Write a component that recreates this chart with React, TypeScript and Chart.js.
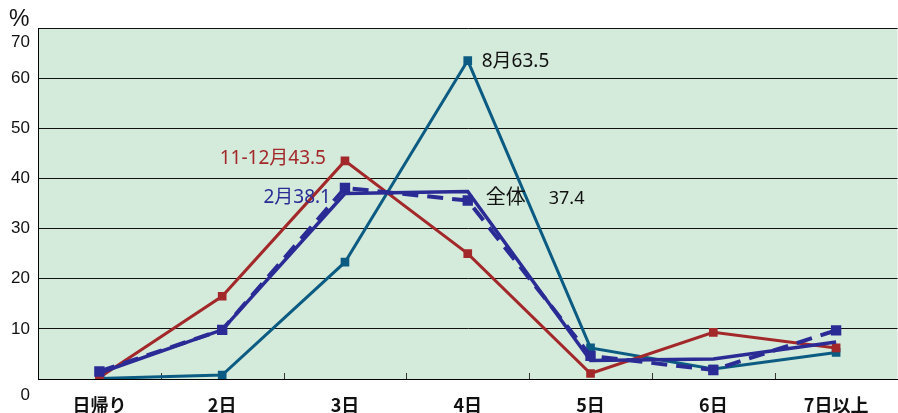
import React, { useEffect, useRef } from "react";
import { Chart, registerables } from "chart.js";

Chart.register(...registerables);

const categories = ["日帰り", "2日", "3日", "4日", "5日", "6日", "7日以上"];
const zentai = [1.2, 9.8, 37.0, 37.4, 3.7, 4.0, 7.4];
const feb = [1.5, 9.8, 38.1, 35.6, 4.6, 1.8, 9.7];
const novdec = [0.3, 16.5, 43.5, 25.0, 1.1, 9.3, 6.2];
const aug = [0.1, 0.8, 23.3, 63.5, 6.2, 2.0, 5.3];
const yTicks = [0, 10, 20, 30, 40, 50, 60, 70];

const RED = "#a3282a";
const TEAL = "#0b5b82";
const NAVY = "#2b2b96";
const BG = "#d4eada";
const FONT = '"Liberation Sans", "Noto Sans CJK JP", Arial, sans-serif';
const AFONT = '"Noto Sans", "Noto Sans CJK JP", sans-serif';

const decorPlugin = {
  id: "decor",
  beforeDraw(chart: any) {
    const { ctx, chartArea } = chart;
    ctx.save();
    ctx.fillStyle = BG;
    ctx.fillRect(chartArea.left, chartArea.top, chartArea.right - chartArea.left, chartArea.bottom - chartArea.top);
    ctx.restore();
  },
  beforeDatasetsDraw(chart: any) {
    const { ctx, chartArea } = chart;
    const xs = chart.scales.x;
    ctx.save();
    ctx.strokeStyle = "#333";
    ctx.lineWidth = 1;
    for (let i = 1; i < categories.length; i++) {
      const x = Math.round((xs.getPixelForValue(i - 1) + xs.getPixelForValue(i)) / 2) + 0.5;
      ctx.beginPath();
      ctx.moveTo(x, chartArea.bottom);
      ctx.lineTo(x, chartArea.bottom - 6);
      ctx.stroke();
    }
    ctx.restore();
  },
  afterDraw(chart: any) {
    const { ctx } = chart;
    const ys = chart.scales.y;
    const xs = chart.scales.x;
    ctx.save();
    ctx.fillStyle = "#111";
    ctx.font = `17px ${FONT}`;
    ctx.textAlign = "right";
    ctx.textBaseline = "middle";
    for (const v of yTicks) {
      const shift = v === 0 ? 16 : v === 70 ? 14 : 0;
      ctx.fillText(String(v), 30, ys.getPixelForValue(v) + shift);
    }
    ctx.textAlign = "left";
    ctx.font = `23px ${FONT}`;
    ctx.fillText("%", 9, 20);

    // annotations
    const px = (i: number) => xs.getPixelForValue(i);
    const py = (v: number) => ys.getPixelForValue(v);
    ctx.font = `19px ${AFONT}`;
    ctx.fillStyle = RED;
    ctx.textAlign = "right";
    ctx.fillText(`11-12月${novdec[2]}`, px(2) - 19, py(novdec[2]) - 2);
    ctx.fillStyle = NAVY;
    ctx.fillText(`2月${feb[2]}`, px(2) - 14, py(feb[2]) + 10);
    ctx.fillStyle = "#111";
    ctx.textAlign = "left";
    ctx.fillText(`8月${aug[3]}`, px(3) + 14, py(aug[3]) + 1);
    ctx.font = `20px ${AFONT}`;
    ctx.fillText("全体", px(3) + 18, py(zentai[3]) + 7);
    ctx.font = `18px ${AFONT}`;
    ctx.fillText(String(zentai[3]), px(3) + 81, py(zentai[3]) + 7);
    ctx.restore();
  },
};

export default function App() {
  const ref = useRef<HTMLCanvasElement>(null);
  useEffect(() => {
    if (!ref.current) return;
    const chart = new Chart(ref.current, {
      type: "line",
      data: {
        labels: categories,
        datasets: [
          {
            label: "全体",
            data: zentai,
            borderColor: NAVY,
            backgroundColor: NAVY,
            borderWidth: 3.5,
            pointRadius: 0,
            tension: 0,
          },
          {
            label: "2月",
            data: feb,
            borderColor: NAVY,
            backgroundColor: NAVY,
            borderWidth: 4,
            borderDash: [16, 9],
            pointStyle: "rect",
            pointRadius: 4.5,
            tension: 0,
          },
          {
            label: "11-12月",
            data: novdec,
            borderColor: RED,
            backgroundColor: RED,
            borderWidth: 3,
            pointStyle: "rect",
            pointRadius: 4,
            tension: 0,
          },
          {
            label: "8月",
            data: aug,
            borderColor: TEAL,
            backgroundColor: TEAL,
            borderWidth: 3,
            pointStyle: "rect",
            pointRadius: 4,
            tension: 0,
          },
        ],
      },
      options: {
        animation: false,
        responsive: true,
        maintainAspectRatio: false,
        layout: { padding: { top: 28, left: 0, right: 0, bottom: 0 } },
        plugins: { legend: { display: false }, tooltip: { enabled: false } },
        scales: {
          x: {
            offset: true,
            grid: { display: false, drawTicks: false },
            border: { display: true, color: "#000", width: 1 },
            ticks: {
              color: "#111",
              padding: 15,
              maxRotation: 0,
              autoSkip: false,
              font: { family: '"Noto Sans CJK JP", "Liberation Sans", sans-serif', size: 18, weight: "bold" },
            },
            afterFit: (s: any) => {
              s.height = 34;
            },
          },
          y: {
            min: 0,
            max: 70,
            ticks: { display: false, stepSize: 10 },
            grid: { color: "#111", lineWidth: 1, drawTicks: false },
            border: { display: true, color: "#000", width: 1 },
            afterFit: (s: any) => {
              s.width = 38;
            },
          },
        },
      },
      plugins: [decorPlugin],
    } as any);
    return () => chart.destroy();
  }, []);
  return (
    <div style={{ position: "fixed", left: 0, top: 0, width: 898, height: 413, overflow: "hidden", background: "#fff" }}>
      <div style={{ position: "relative", width: 906, height: 413 }}>
        <canvas ref={ref} />
      </div>
    </div>
  );
}
